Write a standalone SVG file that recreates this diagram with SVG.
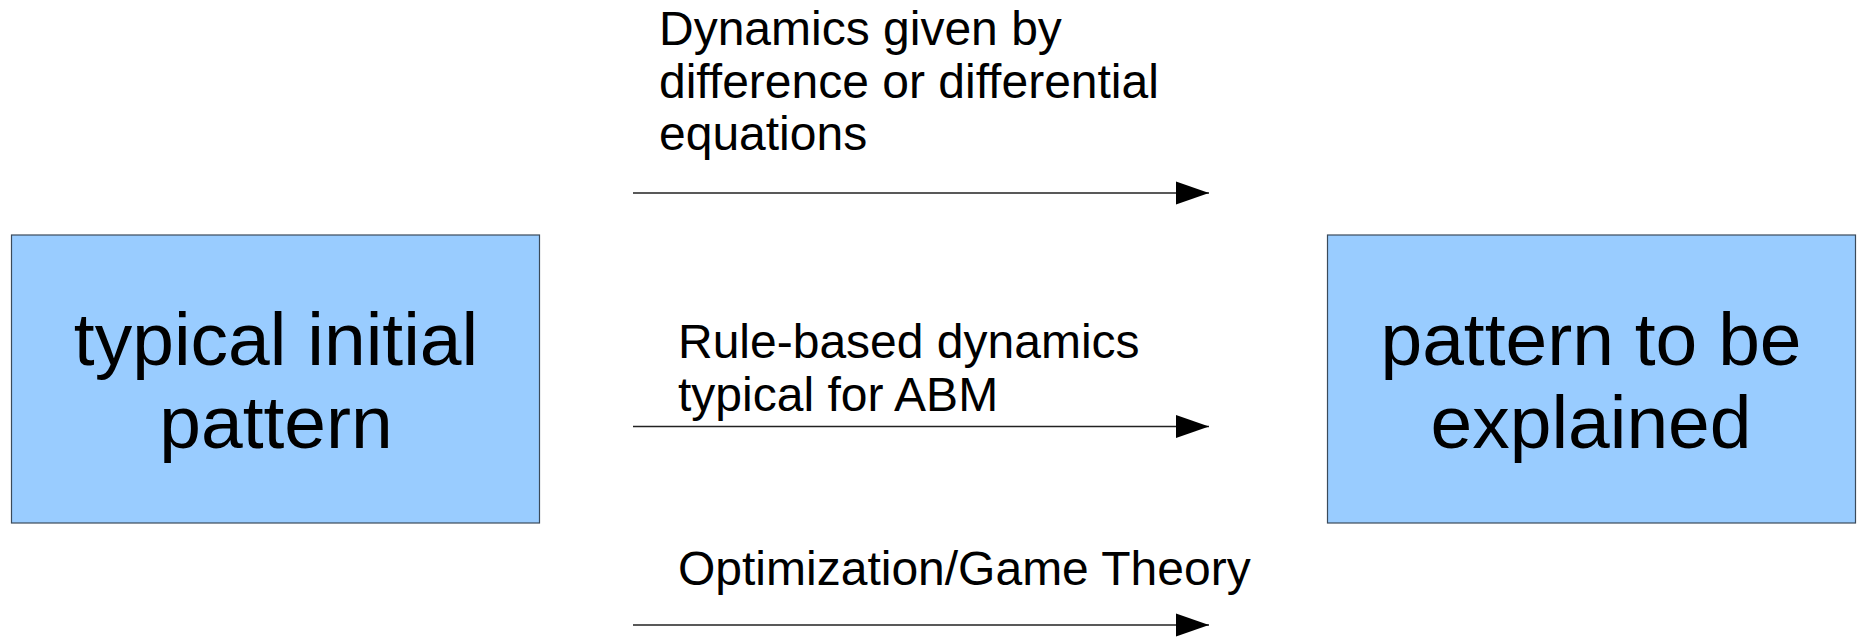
<svg xmlns="http://www.w3.org/2000/svg" width="1860" height="637" viewBox="0 0 1860 637">
  <style>
    .box { fill: #99ccff; stroke: #3b4a5a; stroke-width: 1.2; }
    .big { font-family: "Liberation Sans", Arial, sans-serif; font-size: 75px; fill: #000; text-anchor: middle; }
    .lbl { font-family: "Liberation Sans", Arial, sans-serif; font-size: 48px; fill: #000; }
    .conn { stroke: #222; stroke-width: 1.3; fill: none; marker-end: url(#head); }
  </style>
  <defs>
    <marker id="head" markerUnits="userSpaceOnUse" markerWidth="34" markerHeight="24" refX="33" refY="11.5" orient="auto" viewBox="0 0 34 23">
      <path d="M0,0 L33,11.5 L0,23 Z" fill="#000"/>
    </marker>
  </defs>
  <rect width="1860" height="637" fill="#fff"/>

  <g id="initial-pattern">
    <rect class="box" x="11.5" y="235" width="528" height="288"/>
    <text class="big" x="276" y="365">typical initial</text>
    <text class="big" x="276" y="448">pattern</text>
  </g>

  <g id="target-pattern">
    <rect class="box" x="1327.5" y="235" width="528" height="288"/>
    <text class="big" x="1591" y="365">pattern to be</text>
    <text class="big" x="1591" y="448">explained</text>
  </g>

  <g id="connectors">
    <line class="conn" x1="633" y1="193" x2="1209" y2="193"/>
    <line class="conn" x1="633" y1="426.5" x2="1209" y2="426.5"/>
    <line class="conn" x1="633" y1="625" x2="1209" y2="625"/>
  </g>

  <g id="labels">
    <text class="lbl" x="659" y="45">Dynamics given by</text>
    <text class="lbl" x="659" y="98">difference or differential</text>
    <text class="lbl" x="659" y="150">equations</text>
    <text class="lbl" x="678" y="358">Rule-based dynamics</text>
    <text class="lbl" x="678" y="411">typical for ABM</text>
    <text class="lbl" x="678" y="585">Optimization/Game Theory</text>
  </g>
</svg>
